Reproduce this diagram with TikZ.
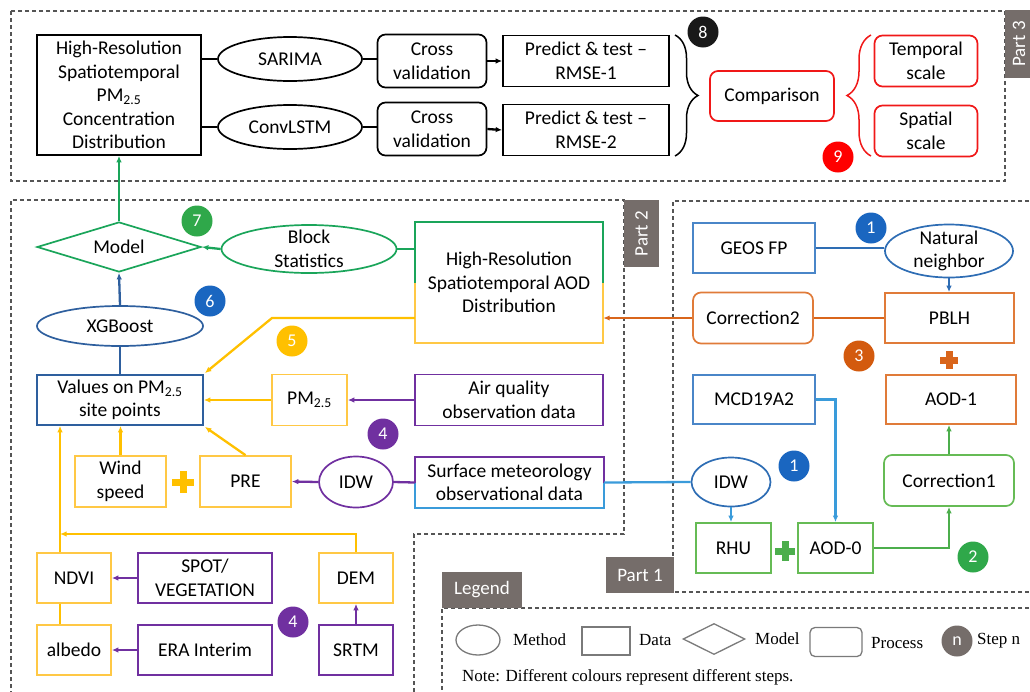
\documentclass[tikz,border=0pt]{standalone}
\usepackage{fontspec}
\setmainfont{Carlito}
\newfontfamily\legendfont{Liberation Serif}
\usetikzlibrary{shapes.geometric, arrows.meta, decorations.pathreplacing, calc}

% palette
\definecolor{cBlueDk}{HTML}{2E5F9E}
\definecolor{cBlue}{HTML}{4A86C8}
\definecolor{cBlueEl}{HTML}{2E6DB4}
\definecolor{cSky}{HTML}{3A9BDA}
\definecolor{cBadgeBlue}{HTML}{1A66C0}
\definecolor{cOrange}{HTML}{E07B39}
\definecolor{cOrangeLn}{HTML}{D9651B}
\definecolor{cBadgeOrange}{HTML}{D35A0E}
\definecolor{cGreen}{HTML}{66BB55}
\definecolor{cGreenLn}{HTML}{4CAE4C}
\definecolor{cGreenDk}{HTML}{1AA55A}
\definecolor{cBadgeGreen}{HTML}{2FA84A}
\definecolor{cYellow}{HTML}{FFC000}
\definecolor{cYellowBox}{HTML}{FFC845}
\definecolor{cPurple}{HTML}{7030A0}
\definecolor{cRed}{HTML}{F01818}
\definecolor{cTab}{HTML}{756D6A}
\definecolor{cDash}{HTML}{555555}
\definecolor{cLeg}{HTML}{7A7A7A}

\begin{document}
\begin{tikzpicture}[x=1pt, y=-1pt,
  every node/.style={font=\fontsize{19.5}{23.5}\selectfont},
  box/.style={draw=#1, line width=1.7pt, rectangle, align=center, inner sep=0pt},
  proc/.style={box=#1, rounded corners=8pt},
  meth/.style={draw=#1, line width=1.7pt, ellipse, align=center, inner xsep=-8pt, inner ysep=-14pt},
  mdl/.style={draw=#1, line width=1.7pt, diamond, aspect=3.3, align=center, inner sep=-4pt},
  badge/.style={circle, fill=#1, text=white, minimum size=31pt, inner sep=0pt, font=\fontsize{18}{18}\selectfont},
  conn/.style={draw=#1, line width=2.3pt},
  arr/.style={-{Latex[length=6.5pt,width=5.5pt]}},
  dashline/.style={draw=cDash, line width=1.1pt, dash pattern=on 4pt off 3pt},
  tabtext/.style={text=white, font=\fontsize{19}{19}\selectfont},
  legtext/.style={font=\legendfont\fontsize{17}{17}\selectfont, inner sep=0pt},
  plus/.style={draw=#1, line width=7pt},
  brc/.style={draw=#1, line width=1.5pt, decorate}
]
\useasboundingbox (0,0) rectangle (1030,691);

% ---------- region outlines and tabs ----------
\draw[dashline] (11,11) rectangle (1005,181);
\fill[cTab] (1005,10) rectangle (1036,78);
\node[tabtext, rotate=90] at (1019,44) {Part 3};

\draw[dashline] (11,695) -- (11,200) -- (624,200) -- (624,534) -- (414,534) -- (414,695);
\fill[cTab] (624,200) rectangle (659,267);
\node[tabtext, rotate=90] at (641.5,233.5) {Part 2};

\draw[dashline] (1036,201) -- (673,201) -- (673,592) -- (1036,592);
\fill[cTab] (606,557) rectangle (674,593);
\node[tabtext] at (640,575) {Part 1};

\draw[dashline] (1036,608) -- (442,608) -- (442,695);
\fill[cTab] (442,572) rectangle (522,608);
\node[tabtext] at (482,590) {Legend};

% ---------- Part 3 ----------
\node[box=black, minimum width=164pt, minimum height=120pt] (pmhr) at (119,95)
  {High-Resolution\\Spatiotemporal\\PM\textsubscript{2.5}\\Concentration\\Distribution};
\node[meth=black, minimum width=144pt, minimum height=44pt] (sar) at (290,59) {SARIMA};
\node[meth=black, minimum width=144pt, minimum height=44pt] (cnv) at (290,127) {ConvLSTM};
\node[proc=black, minimum width=109pt, minimum height=53pt] (cv1) at (432,61) {Cross\\validation};
\node[proc=black, minimum width=109pt, minimum height=53pt] (cv2) at (432,129) {Cross\\validation};
\node[box=black, minimum width=166pt, minimum height=51pt] (pt1) at (586,61) {Predict \& test –\\RMSE-1};
\node[box=black, minimum width=166pt, minimum height=51pt] (pt2) at (586,130) {Predict \& test –\\RMSE-2};
\node[proc=cRed, minimum width=124pt, minimum height=50pt] (cmp) at (772,96) {Comparison};
\node[proc=cRed, minimum width=103pt, minimum height=51pt] (tmp) at (926,61) {Temporal\\scale};
\node[proc=cRed, minimum width=103pt, minimum height=51pt] (spa) at (926,131) {Spatial\\scale};

\draw[conn=black] (pmhr.east |- sar.west) -- (sar.west);
\draw[conn=black] (pmhr.east |- cnv.west) -- (cnv.west);
\draw[conn=black] (sar.east) -- (cv1.west |- sar.east);
\draw[conn=black] (cnv.east) -- (cv2.west |- cnv.east);
\draw[conn=black, arr] (cv1.east) -- (pt1.west);
\draw[conn=black, arr] (cv2.east) -- (pt2.west);
\draw[brc=black, decoration={brace, amplitude=23pt}] (675,35) -- (675,156);
\draw[brc=cRed, decoration={brace, amplitude=24pt}] (871,156) -- (871,35);

\node[badge=black!90] at (703,32) {8};
\node[badge=red] at (838,157) {9};

% ---------- Part 2 ----------
\node[mdl=cGreenDk, minimum width=164pt, minimum height=50pt] (model) at (119,247) {Model};
\node[meth=cGreenDk, minimum width=175pt, minimum height=48pt] (blk) at (309,249) {Block\\Statistics};
\node[rectangle, minimum width=188pt, minimum height=121pt, align=center, inner sep=0pt] (aod) at (509,282.5)
  {High-Resolution\\Spatiotemporal AOD\\Distribution};
\draw[cGreenDk, line width=1.7pt] (aod.west) -- (aod.north west) -- (aod.north east) -- (aod.east);
\draw[cYellowBox, line width=1.7pt] (aod.west) -- (aod.south west) -- (aod.south east) -- (aod.east);

\node[meth=cBlueDk, minimum width=166pt, minimum height=40pt] (xgb) at (120,326) {XGBoost};
\node[box=cBlueDk, minimum width=166pt, minimum height=50pt] (vals) at (120,400) {Values on PM\textsubscript{2.5}\\site points};
\node[box=cYellowBox, minimum width=75pt, minimum height=51pt] (pm25) at (309.5,400) {PM\textsubscript{2.5}};
\node[box=cPurple, minimum width=188pt, minimum height=51pt] (airq) at (509,400) {Air quality\\observation data};
\node[box=cYellowBox, minimum width=91pt, minimum height=51pt] (wind) at (120.5,481.5) {Wind\\speed};
\node[box=cYellowBox, minimum width=91pt, minimum height=51pt] (pre) at (245.5,481.5) {PRE};
\node[meth=cPurple, minimum width=74pt, minimum height=51pt] (idwp) at (356,482) {IDW};
\node[rectangle, minimum width=189pt, minimum height=51pt, align=center, inner sep=0pt] (surf) at (509.5,482.5)
  {Surface meteorology\\observational data};
\draw[cPurple, line width=1.7pt] (surf.west) -- (surf.north west) -- (surf.north east) -- (surf.east);
\draw[cSky, line width=1.7pt] (surf.west) -- (surf.south west) -- (surf.south east) -- (surf.east);

\node[box=cYellowBox, minimum width=74pt, minimum height=50pt] (ndvi) at (74,578) {NDVI};
\node[box=cPurple, minimum width=134pt, minimum height=50pt] (spot) at (205,578) {SPOT/\\VEGETATION};
\node[box=cYellowBox, minimum width=74pt, minimum height=50pt] (dem) at (356,578) {DEM};
\node[box=cYellowBox, minimum width=74pt, minimum height=50pt] (albedo) at (74,650) {albedo};
\node[box=cPurple, minimum width=134pt, minimum height=50pt] (era) at (205,650) {ERA Interim};
\node[box=cPurple, minimum width=74pt, minimum height=50pt] (srtm) at (356,650) {SRTM};

\coordinate (ybend) at (272,318);
\coordinate (yjoin) at (60,534);

\draw[conn=cGreenDk, arr] (blk.west) -- (model.east);
\draw[conn=cGreenDk] (blk.east) -- (blk.east -| aod.west);
\draw[conn=cGreenDk, arr] (model.north) -- (model.north |- pmhr.south);
\draw[conn=cBlueDk, arr] (xgb.north) -- (model.south);
\draw[conn=cBlueDk] (vals.north) -- (xgb.south);
\draw[conn=cYellow, arr] (aod.west |- ybend) -- (ybend) -- ($(vals.north east)+(1,-1)$);
\draw[conn=cYellow, arr] (pm25.west) -- (vals.east);
\draw[conn=cPurple, arr] (airq.west) -- (pm25.east);
\draw[conn=cYellow, arr] (wind.north) -- (wind.north |- vals.south);
\draw[conn=cYellow, arr] (pre.north) -- ($(vals.south east)+(1,1)$);
\draw[conn=cPurple, arr] (idwp.west) -- (pre.east);
\draw[conn=cPurple] (surf.west) -- (idwp.east);
\draw[conn=cYellow, arr] (dem.north) |- (yjoin);
\draw[conn=cYellow, arr] (ndvi.north -| yjoin) -- (yjoin |- vals.south);
\draw[conn=cYellow] (ndvi.south -| yjoin) -- (albedo.north -| yjoin);
\draw[conn=cPurple, arr] (spot.west) -- (ndvi.east);
\draw[conn=cPurple, arr] (era.west) -- (albedo.east);
\draw[conn=cPurple, arr] (srtm.north) -- (dem.south);

\draw[plus=cYellow] (172,482) -- (194,482) (183,471) -- (183,493);

\node[badge=cBadgeGreen] at (197,221) {7};
\node[badge=cBadgeBlue] at (210,301) {6};
\node[badge=cYellow] at (292,341) {5};
\node[badge=cPurple] at (383,434) {4};
\node[badge=cPurple] at (293,622) {4};

% ---------- Part 1 ----------
\node[box=cBlue, minimum width=122pt, minimum height=50pt] (geos) at (754,248) {GEOS FP};
\node[meth=cBlueEl, minimum width=128pt, minimum height=53pt] (natn) at (949,251) {Natural\\neighbor};
\node[proc=cOrange, minimum width=120pt, minimum height=51pt] (cor2) at (753,318) {Correction2};
\node[box=cOrange, minimum width=129pt, minimum height=50pt] (pblh) at (949.5,318) {PBLH};
\node[box=cBlue, minimum width=122pt, minimum height=49pt] (mcd) at (754,399.5) {MCD19A2};
\node[box=cOrange, minimum width=130pt, minimum height=49pt] (aod1) at (951,399.5) {AOD-1};
\node[meth=cBlueEl, minimum width=79pt, minimum height=49pt] (idwb) at (731,482) {IDW};
\node[proc=cGreen, minimum width=130pt, minimum height=51pt] (cor1) at (949,480.5) {Correction1};
\node[box=cGreen, minimum width=75pt, minimum height=50pt] (rhu) at (733.5,548) {RHU};
\node[box=cGreen, minimum width=75pt, minimum height=50pt] (aod0) at (835.5,548) {AOD-0};

\draw[conn=cBlueEl] (geos.east) -- (natn.west |- geos.east);
\draw[conn=cBlueEl, arr] (natn.south) -- (natn.south |- pblh.north);
\draw[conn=cOrangeLn] (pblh.west) -- (cor2.east);
\draw[conn=cOrangeLn, arr] (cor2.west) -- (cor2.west -| aod.east);
\draw[conn=cSky] (surf.east) -- (idwb.west);
\draw[conn=cSky, arr] (idwb.south) -- (idwb.south |- rhu.north);
\draw[conn=cSky, arr] (mcd.east) -| (aod0.north);
\draw[conn=cGreenLn, arr] (aod0.east) -| (cor1.south);
\draw[conn=cGreenLn, arr] (cor1.north) -- (cor1.north |- aod1.south);

\draw[plus=cOrangeLn] (940,360) -- (958,360) (949,351) -- (949,369);
\draw[plus=cGreenLn] (775,551) -- (795,551) (785,541) -- (785,561);

\node[badge=cBadgeBlue] at (871,228) {1};
\node[badge=cBadgeOrange] at (859,356) {3};
\node[badge=cBadgeBlue] at (794,466) {1};
\node[badge=cBadgeGreen] at (973,557) {2};

% ---------- Legend ----------
\node[meth=cLeg, line width=1.3pt, minimum width=44pt, minimum height=30pt] (lgmeth) at (478,640) {};
\node[legtext, anchor=west] (lgmethT) at (513,640) {Method};
\node[box=cLeg, line width=1.3pt, minimum width=48pt, minimum height=28pt] (lgdata) at (606,641) {};
\node[legtext, anchor=west] (lgdataT) at (639,640) {Data};
\node[mdl=cLeg, line width=1.3pt, aspect=2, minimum width=62pt, minimum height=31pt] (lgmdl) at (714,639) {};
\node[legtext, anchor=west] (lgmdlT) at (755,639) {Model};
\node[proc=cLeg, line width=1.3pt, rounded corners=5pt, minimum width=52pt, minimum height=29pt] (lgproc) at (836,642) {};
\node[legtext, anchor=west] (lgprocT) at (871,643) {Process};
\node[badge=cTab] (lgstep) at (957,641) {n};
\node[legtext, anchor=west] (lgstepT) at (977,641) {Step n};
\node[legtext, anchor=west] (lgnote) at (462,677) {Note: Different colours represent different steps.};

\end{tikzpicture}
\end{document}
